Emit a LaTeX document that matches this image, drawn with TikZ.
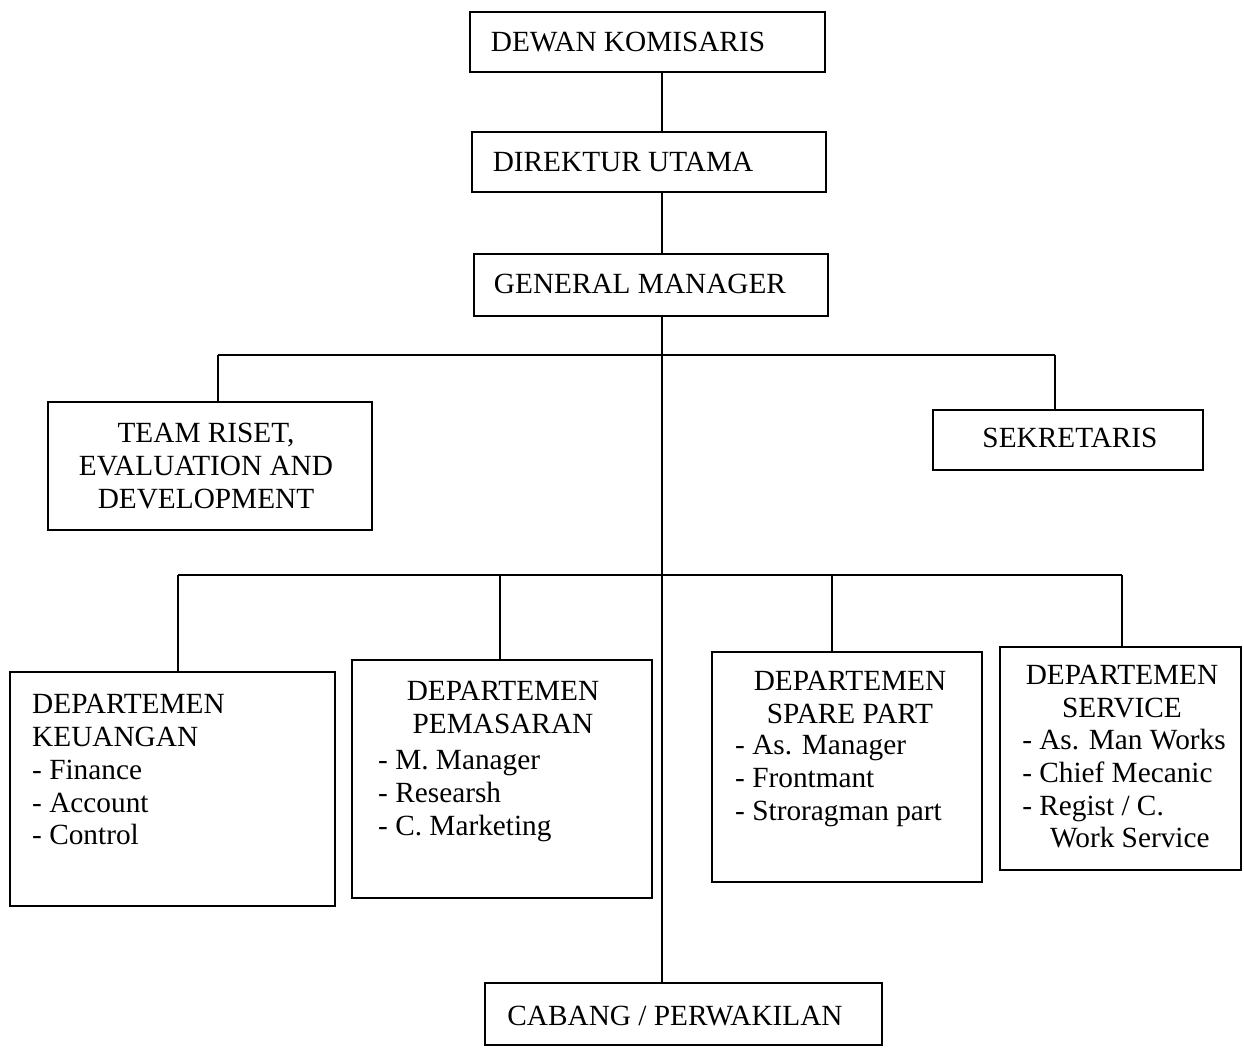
\documentclass[tikz,border=0pt]{standalone}
\usepackage{fontspec}
\setmainfont{Liberation Serif}
\usetikzlibrary{fit,calc}
\begin{document}
\begin{tikzpicture}[x=0.03cm,y=-0.03cm,
  box/.style={draw,line width=1.3pt,inner sep=0pt,rectangle},
  conn/.style={line width=1.3pt},
  txt/.style={inner sep=0pt,font=\fontsize{25}{28}\selectfont},
  ctxt/.style={txt,align=center},
  ltxt/.style={txt,align=left,anchor=west}]
\useasboundingbox (0,0) rectangle (1244,1052);
% boxes
\node[box,fit={(470,12) (825,72)}] (dk) {};
\node[box,fit={(472,132) (826,192)}] (du) {};
\node[box,fit={(474,254) (828,316)}] (gm) {};
\node[box,fit={(48,402) (372,530)}] (tr) {};
\node[box,fit={(933,410) (1203,470)}] (sk) {};
\node[box,fit={(10,672) (335,906)}] (ku) {};
\node[box,fit={(352,660) (652,898)}] (pm) {};
\node[box,fit={(712,652) (982,882)}] (sp) {};
\node[box,fit={(1000,647) (1241,870)}] (sv) {};
\node[box,fit={(485,983) (882,1045)}] (cb) {};
% texts
\node[ctxt] (tdk) at (628,42) {DEWAN KOMISARIS};
\node[ctxt] (tdu) at (623,162) {DIREKTUR UTAMA};
\node[ctxt] (tgm) at (640,284) {GENERAL MANAGER};
\node[ctxt] (ttr) at (206,466) {TEAM RISET,\\EVALUATION AND\\DEVELOPMENT};
\node[ctxt] (tsk) at (1070,438) {SEKRETARIS};
\node[ltxt,anchor=north west] (tku) at (32,694) {DEPARTEMEN\\KEUANGAN\\- Finance\\- Account\\- Control};
\node[ctxt,anchor=north] (hpm) at (503,681) {DEPARTEMEN\\PEMASARAN};
\node[ltxt,anchor=north west] (ipm) at (378,750) {- M. Manager\\- Researsh\\- C. Marketing};
\node[ctxt,anchor=north] (hsp) at (850,671) {DEPARTEMEN\\SPARE PART};
\node[ltxt,anchor=north west] (isp) at (735,735) {- As. Manager\\- Frontmant\\- Stroragman part};
\node[ctxt,anchor=north] (hsv) at (1122,665) {DEPARTEMEN\\SERVICE};
\node[ltxt,anchor=north west] (isv) at (1022,729) {- As. Man Works\\- Chief Mecanic\\- Regist / C.\\\hspace*{0.95em}Work Service};
\node[ctxt] (tcb) at (675,1016) {CABANG / PERWAKILAN};
% connectors
\coordinate (trunk) at (662,0);
\draw[conn] (dk.south -| trunk) -- (du.north -| trunk);
\draw[conn] (du.south -| trunk) -- (gm.north -| trunk);
\draw[conn] (gm.south -| trunk) -- (cb.north -| trunk);
\coordinate (b1l) at (218,355);
\coordinate (b1r) at (1055,355);
\draw[conn] (b1l) -- (b1r);
\draw[conn] (b1l) -- (b1l |- tr.north);
\draw[conn] (b1r) -- (b1r |- sk.north);
\coordinate (b2a) at (178,575);
\coordinate (b2b) at (500,575);
\coordinate (b2c) at (832,575);
\coordinate (b2d) at (1122,575);
\draw[conn] (b2a) -- (b2d);
\draw[conn] (b2a) -- (b2a |- ku.north);
\draw[conn] (b2b) -- (b2b |- pm.north);
\draw[conn] (b2c) -- (b2c |- sp.north);
\draw[conn] (b2d) -- (b2d |- sv.north);
\end{tikzpicture}
\end{document}
